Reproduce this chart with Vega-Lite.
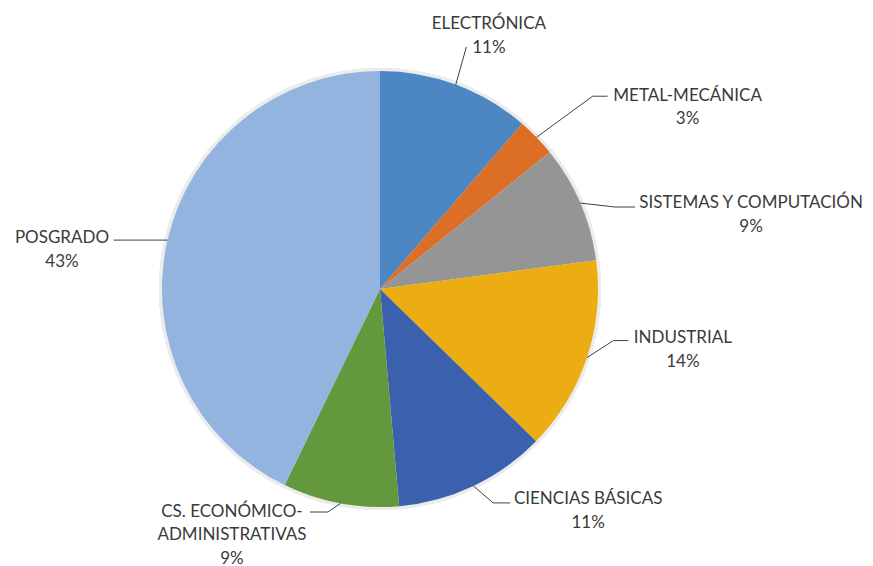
{
  "$schema": "https://vega.github.io/schema/vega-lite/v6.json",
  "width": 760,
  "height": 554,
  "autosize": {"type": "none"},
  "padding": {"left": 0, "top": 12, "right": 113, "bottom": 0},
  "background": "white",
  "config": {"view": {"stroke": null}},
  "data": {
    "values": [
      {"category": "ELECTRÓNICA", "value": 11.3},
      {"category": "METAL-MECÁNICA", "value": 2.9},
      {"category": "SISTEMAS Y COMPUTACIÓN", "value": 8.7},
      {"category": "INDUSTRIAL", "value": 14.4},
      {"category": "CIENCIAS BÁSICAS", "value": 11.3},
      {"category": "CS. ECONÓMICO-ADMINISTRATIVAS", "value": 8.6},
      {"category": "POSGRADO", "value": 42.8}
    ]
  },
  "transform": [
    {"window": [{"op": "sum", "field": "value", "as": "cum"}, {"op": "row_number", "as": "i"}], "frame": [null, 0]},
    {"calculate": "datum.cum - datum.value", "as": "start"},
    {"calculate": "(datum.cum - datum.value / 2) / 100 * 2 * PI", "as": "a"},
    {"calculate": "218 * sin(datum.a)", "as": "x0"},
    {"calculate": "-218 * cos(datum.a)", "as": "y0"},
    {"calculate": "datum.a + [-0.7, 1.9, 4.0, -5.9, -2.5, 2.7, 0][datum.i - 1] * PI / 180", "as": "ea"},
    {"calculate": "[257, 287, 249, 239, 242, 229, 218][datum.i - 1]", "as": "re"},
    {"calculate": "datum.re * sin(datum.ea)", "as": "xe"},
    {"calculate": "-datum.re * cos(datum.ea)", "as": "ye"},
    {"calculate": "datum.xe + [0, 15, 20, 15, 17, -18, -54][datum.i - 1]", "as": "x3"},
    {"calculate": "datum.x3 + [22.5, 80, 116, 54.5, 78, -78, -51.6][datum.i - 1]", "as": "tx"},
    {"calculate": "datum.ye + [-22.5, -0.5, -4, -2.5, -3.5, -0.5, -2][datum.i - 1]", "as": "ty"},
    {"calculate": "replace(datum.category, 'ECONÓMICO-', 'ECONÓMICO-\\n') + '\\n' + format(datum.value, '.0f') + '%'", "as": "label"}
  ],
  "layer": [
    {
      "mark": {"type": "arc", "radius": 221, "fill": "#ececec", "theta": 0, "theta2": 6.2832},
      "encoding": {}
    },
    {
      "mark": {"type": "arc", "radius": 218},
      "encoding": {
        "theta": {"field": "start", "type": "quantitative", "scale": {"domain": [0, 100]}, "stack": null},
        "theta2": {"field": "cum"},
        "color": {
          "field": "category",
          "type": "nominal",
          "scale": {
            "domain": ["ELECTRÓNICA", "METAL-MECÁNICA", "SISTEMAS Y COMPUTACIÓN", "INDUSTRIAL", "CIENCIAS BÁSICAS", "CS. ECONÓMICO-ADMINISTRATIVAS", "POSGRADO"],
            "range": ["#4d87c3", "#dc6e26", "#959595", "#ecad12", "#3b61ae", "#63993c", "#93b4de"]
          },
          "legend": null
        }
      }
    },
    {
      "mark": {"type": "rule", "color": "#404040", "strokeWidth": 1},
      "encoding": {
        "x": {"field": "x0", "type": "quantitative", "scale": {"domain": [-380, 380], "nice": false, "zero": false}, "axis": null},
        "y": {"field": "y0", "type": "quantitative", "scale": {"domain": [-277, 277], "reverse": true, "nice": false, "zero": false}, "axis": null},
        "x2": {"field": "xe"},
        "y2": {"field": "ye"}
      }
    },
    {
      "mark": {"type": "rule", "color": "#404040", "strokeWidth": 1},
      "encoding": {
        "x": {"field": "xe", "type": "quantitative", "scale": {"domain": [-380, 380], "nice": false, "zero": false}, "axis": null},
        "y": {"field": "ye", "type": "quantitative", "scale": {"domain": [-277, 277], "reverse": true, "nice": false, "zero": false}, "axis": null},
        "x2": {"field": "x3"},
        "y2": {"field": "ye"}
      }
    },
    {
      "mark": {"type": "text", "font": "Lato", "fontSize": 17, "fill": "#3a3a3a", "align": "center", "baseline": "middle", "lineBreak": "\n", "lineHeight": 23.5},
      "encoding": {
        "x": {"field": "tx", "type": "quantitative", "scale": {"domain": [-380, 380], "nice": false, "zero": false}, "axis": null},
        "y": {"field": "ty", "type": "quantitative", "scale": {"domain": [-277, 277], "reverse": true, "nice": false, "zero": false}, "axis": null},
        "text": {"field": "label", "type": "nominal"}
      }
    }
  ]
}
